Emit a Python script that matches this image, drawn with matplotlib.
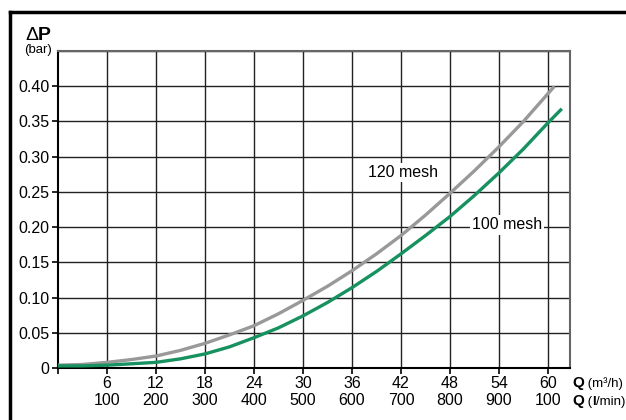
import numpy as np
import matplotlib.pyplot as plt
from matplotlib.lines import Line2D
from matplotlib.offsetbox import TextArea, HPacker, AnnotationBbox

# flow in m3/h, pressure drop in bar
q_120 = [0, 3, 6, 9, 12, 15, 18, 21, 24, 27, 30, 33, 36, 39, 42, 45, 48, 51, 54, 57, 60.8]
dp_120 = [0.004, 0.005, 0.008, 0.012, 0.017, 0.025, 0.035, 0.047, 0.060, 0.077, 0.096,
          0.116, 0.138, 0.162, 0.188, 0.217, 0.248, 0.280, 0.314, 0.350, 0.400]
q_100 = [0, 3, 6, 9, 12, 15, 18, 21, 24, 27, 30, 33, 36, 39, 42, 45, 48, 51, 54, 57, 60, 61.7]
dp_100 = [0.003, 0.003, 0.004, 0.006, 0.008, 0.013, 0.020, 0.030, 0.043, 0.057, 0.074,
          0.093, 0.114, 0.137, 0.162, 0.188, 0.215, 0.245, 0.277, 0.311, 0.348, 0.368]

x_ticks = [6, 12, 18, 24, 30, 36, 42, 48, 54, 60]
x_labels_m3h = ['6', '12', '18', '24', '30', '36', '42', '48', '54', '60']
x_labels_lmin = ['100', '200', '300', '400', '500', '600', '700', '800', '900', '100']
y_ticks = [0, 0.05, 0.10, 0.15, 0.20, 0.25, 0.30, 0.35, 0.40]
y_labels = ['0', '0.05', '0.10', '0.15', '0.20', '0.25', '0.30', '0.35', '0.40']

plt.rcParams['font.family'] = ['Liberation Sans', 'DejaVu Sans']

fig = plt.figure(figsize=(6.26, 4.2), dpi=100)
ax = fig.add_axes([58 / 626, 1 - 368 / 420, 512 / 626, 317 / 420])

ax.set_xlim(0, 62.7)
ax.set_ylim(0, 0.45)

for xv in x_ticks:
    ax.axvline(xv, color='#222222', lw=1.0, zorder=1)
for yv in y_ticks[1:] + [0.45]:
    ax.axhline(yv, color='#222222', lw=1.0, zorder=1)

ax.plot(q_120, dp_120, color='#999999', lw=2.4, zorder=3, solid_capstyle='butt')
ax.plot(q_100, dp_100, color='#16915f', lw=2.4, zorder=3, solid_capstyle='butt')

ax.text(42.2, 0.277, '120 mesh', fontsize=11.5, ha='center', va='center', zorder=2,
        bbox=dict(facecolor='white', edgecolor='none', pad=1.5))
ax.text(55.0, 0.203, '100 mesh', fontsize=11.5, ha='center', va='center', zorder=2,
        bbox=dict(facecolor='white', edgecolor='none', pad=1.5))

ax.set_xticks([0] + x_ticks)
ax.set_xticklabels([''] + [a + '\n' + b for a, b in zip(x_labels_m3h, x_labels_lmin)],
                   fontsize=11.5, linespacing=1.15)
ax.set_yticks(y_ticks)
ax.set_yticklabels(y_labels, fontsize=11.5)
ax.tick_params(direction='out', length=4, width=1.2, color='black', pad=2)

for s in ['left', 'bottom']:
    ax.spines[s].set_color('black')
    ax.spines[s].set_linewidth(1.5)
for s in ['top', 'right']:
    ax.spines[s].set_color('#666666')
    ax.spines[s].set_linewidth(1.5)


def label(parts, xy, align):
    boxes = [TextArea(t, textprops=dict(fontsize=fs, fontweight=fw)) for t, fs, fw in parts]
    pack = HPacker(children=boxes, align='baseline', pad=0, sep=0)
    ab = AnnotationBbox(pack, xy, xycoords='figure pixels', box_alignment=align,
                        frameon=False, pad=0)
    fig.add_artist(ab)


# axis titles
label([('Δ', 14, 'normal'), ('P', 14, 'bold')], (38, 420 - 36), (0.5, 0.5))
fig.text(38 / 626, 1 - 50 / 420, '(bar)', fontsize=9.5, ha='center', va='center')
label([('Q', 11, 'bold'), (' (m³/h)', 9.5, 'normal')], (572, 420 - 383), (0, 0.5))
label([('Q', 11, 'bold'), (' (', 9.5, 'normal'), ('l', 9.5, 'bold'), ('/min)', 9.5, 'normal')],
      (572, 420 - 401), (0, 0.5))

# outer frame
fig.add_artist(Line2D([10 / 626, 10 / 626], [0, 1 - 12 / 420], color='black', lw=2.5,
                      transform=fig.transFigure))
fig.add_artist(Line2D([10 / 626, 1], [1 - 12 / 420, 1 - 12 / 420], color='black', lw=2.5,
                      transform=fig.transFigure))

fig.savefig('out.png', dpi=100)
